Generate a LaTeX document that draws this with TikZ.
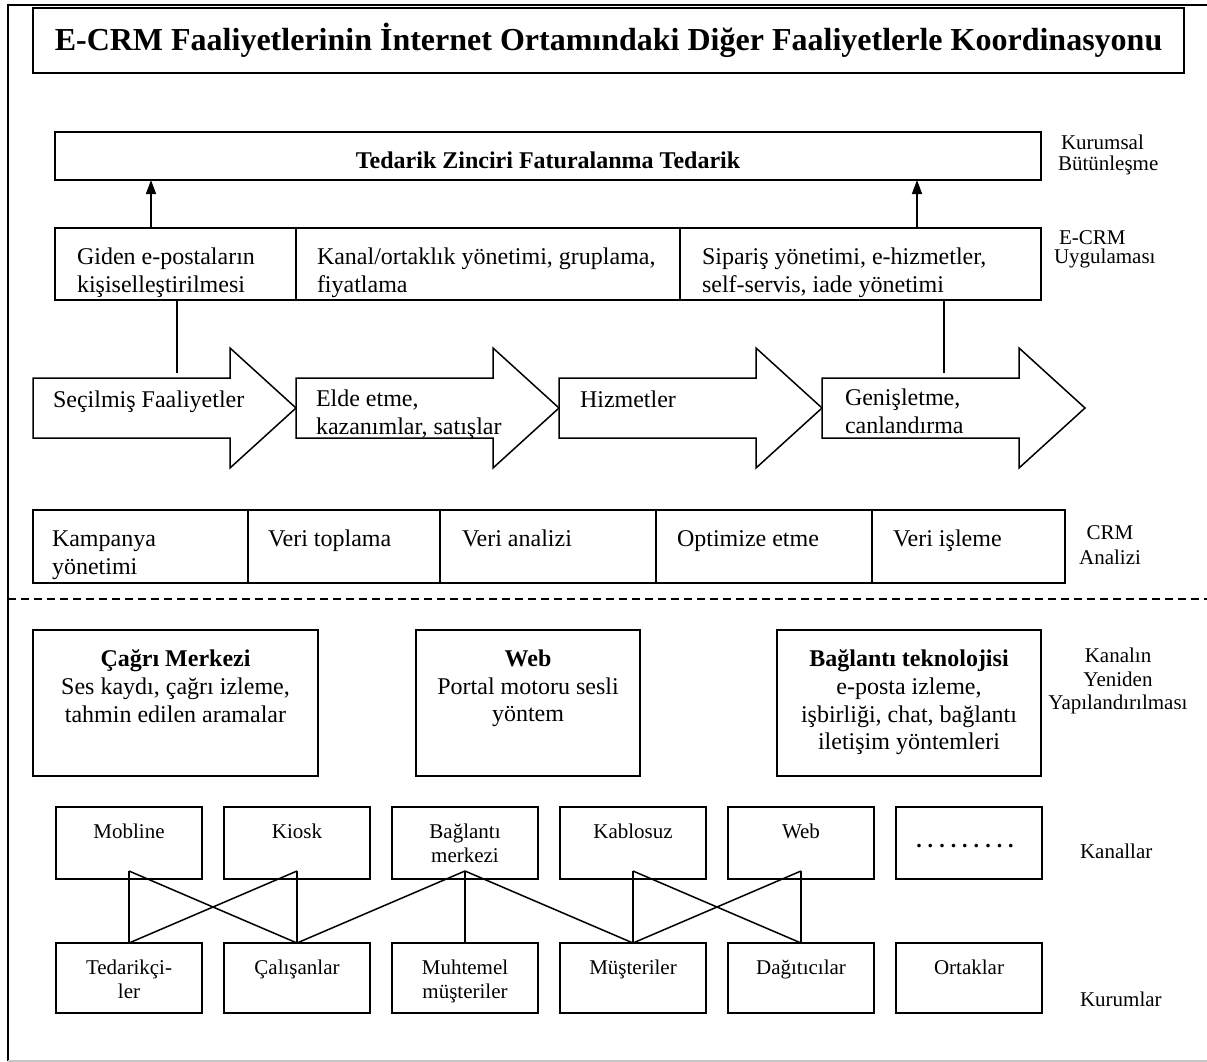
\documentclass[tikz,border=0pt]{standalone}
\usepackage{fontspec}
\setmainfont{Liberation Serif}
\usetikzlibrary{arrows.meta,calc}

\begin{document}
\begin{tikzpicture}[x=1pt,y=-1pt,
  every node/.style={inner sep=0pt,outer sep=0pt},
  boxed/.style={draw,line width=1.7pt},
  conn/.style={line width=1.5pt},
  big/.style={font=\fontsize{24}{27.6}\selectfont},
  small/.style={font=\fontsize{21}{23.5}\selectfont},
  upar/.style={conn,-{Triangle[length=14pt,width=10pt]}},
  flow/.style={draw,line width=1.5pt,line join=miter},
  chan/.style={boxed,minimum width=146pt,minimum height=72pt},
  inst/.style={boxed,minimum width=146pt,minimum height=70pt},
]
\useasboundingbox (0,0) rectangle (1207,1062);

% outer frame (right side runs past the page)
\draw[line width=1.5pt] (1220,5) -- (8,5) -- (8,1061);
\draw[gray!45,line width=1.5pt] (8,1061) -- (1220,1061);

% title
\node[boxed,minimum width=1151pt,minimum height=65pt,
      font=\fontsize{32}{36}\selectfont\bfseries] (title) at (608.5,40.5)
  {E-CRM Faaliyetlerinin İnternet Ortamındaki Diğer Faaliyetlerle Koordinasyonu};

% enterprise integration
\node[boxed,minimum width=986pt,minimum height=48pt] (ted) at (548,156) {};
\node[font=\fontsize{24}{27.6}\selectfont\bfseries,anchor=base] (tedt) at (548,168)
  {Tedarik Zinciri Faturalanma Tedarik};

% E-CRM application row
\node[boxed,minimum width=241pt,minimum height=72pt] (ea) at (175.5,264) {};
\node[boxed,minimum width=384pt,minimum height=72pt] (eb) at (488,264) {};
\node[boxed,minimum width=361pt,minimum height=72pt] (ec) at (860.5,264) {};
\node[big,align=left,anchor=west] (eat) at ([xshift=22pt,yshift=-9pt]ea.west)
  {Giden e-postaların\\kişiselleştirilmesi};
\node[big,align=left,anchor=west] (ebt) at ([xshift=21pt,yshift=-9pt]eb.west)
  {Kanal/ortaklık yönetimi, gruplama,\\fiyatlama};
\node[big,align=left,anchor=west] (ect) at ([xshift=22pt,yshift=-9pt]ec.west)
  {Sipariş yönetimi, e-hizmetler,\\self-servis, iade yönetimi};

\coordinate (u1) at (151,0);
\coordinate (u2) at (917,0);
\draw[upar] (ea.north -| u1) -- (ted.south -| u1);
\draw[upar] (ec.north -| u2) -- (ted.south -| u2);

% activity chain
\foreach \L/\n in {33/f1,296/f2,559/f3,822/f4}{
  \draw[flow] (\L,378) -- ({\L+197},378) -- ({\L+197},348) -- ({\L+263},408)
    -- ({\L+197},468) -- ({\L+197},438) -- (\L,438) -- cycle;
  \coordinate (\n) at ({\L+131.5},378);
}
\node[big,anchor=base west] (f1t) at (53,407) {Seçilmiş Faaliyetler};
\node[big,align=left,anchor=west] (f2t) at (316,414.5) {Elde etme,\\kazanımlar, satışlar};
\node[big,anchor=base west] (f3t) at (580,407) {Hizmetler};
\node[big,align=left,anchor=west] (f4t) at (845,411.5) {Genişletme,\\canlandırma};

\coordinate (d1) at (177,373);
\coordinate (d2) at (944,373);
\draw[conn] (ea.south -| d1) -- (d1);
\draw[conn] (ec.south -| d2) -- (d2);

% CRM analysis row
\node[boxed,minimum width=215pt,minimum height=73pt] (ca) at (140.5,546.5) {};
\node[boxed,minimum width=192pt,minimum height=73pt] (cb) at (344,546.5) {};
\node[boxed,minimum width=216pt,minimum height=73pt] (cc) at (548,546.5) {};
\node[boxed,minimum width=216pt,minimum height=73pt] (cd) at (764,546.5) {};
\node[boxed,minimum width=193pt,minimum height=73pt] (ce) at (968.5,546.5) {};
\node[big,align=left,anchor=west] (cat) at (52,555) {Kampanya\\yönetimi};
\node[big,anchor=base west] (cbt) at (268,546) {Veri toplama};
\node[big,anchor=base west] (cct) at (462,546) {Veri analizi};
\node[big,anchor=base west] (cdt) at (677,546) {Optimize etme};
\node[big,anchor=base west] (cet) at (893,546) {Veri işleme};

% separator
\draw[line width=1.3pt,dash pattern=on 8pt off 5pt] (8,599) -- (1220,599);

% channel restructuring
\node[boxed,minimum width=285pt,minimum height=146pt] (cm) at (175.5,703) {};
\node[boxed,minimum width=224pt,minimum height=146pt] (wb) at (528,703) {};
\node[boxed,minimum width=264pt,minimum height=146pt] (bt) at (909,703) {};
\node[big,align=center,anchor=north] (cmt) at (175.5,650)
  {\textbf{Çağrı Merkezi}\\Ses kaydı, çağrı izleme,\\tahmin edilen aramalar};
\node[big,align=center,anchor=north] (wbt) at (528,650)
  {\textbf{Web}\\Portal motoru sesli\\yöntem};
\node[big,align=center,anchor=north] (btt) at (909,650)
  {\textbf{Bağlantı teknolojisi}\\e-posta izleme,\\işbirliği, chat, bağlantı\\iletişim yöntemleri};

% channels
\node[chan] (mob) at (129,843) {};
\node[chan] (kio) at (297,843) {};
\node[chan] (bag) at (465,843) {};
\node[chan] (kab) at (633,843) {};
\node[chan] (web) at (801,843) {};
\node[chan] (dot) at (969,843) {};
\node[small,align=center,anchor=north] at ([yshift=-17pt]mob.north) (mobt) {Mobline};
\node[small,align=center,anchor=north] at ([yshift=-17pt]kio.north) (kiot) {Kiosk};
\node[small,align=center,anchor=north] at ([yshift=-17pt]bag.north) (bagt) {Bağlantı\\merkezi};
\node[small,align=center,anchor=north] at ([yshift=-17pt]kab.north) (kabt) {Kablosuz};
\node[small,align=center,anchor=north] at ([yshift=-17pt]web.north) (webt) {Web};
\node[font=\fontsize{22}{24}\selectfont\bfseries,anchor=base] at (965,847) (dott)
  {.\hspace{6pt}.\hspace{6pt}.\hspace{6pt}.\hspace{6pt}.\hspace{6pt}.\hspace{6pt}.\hspace{6pt}.\hspace{6pt}.};

% institutions
\node[inst] (ted2) at (129,978) {};
\node[inst] (cal) at (297,978) {};
\node[inst] (muh) at (465,978) {};
\node[inst] (mus) at (633,978) {};
\node[inst] (dag) at (801,978) {};
\node[inst] (ort) at (969,978) {};
\node[small,align=center,anchor=north] at ([yshift=-17pt]ted2.north) (ted2t) {Tedarikçi-\\ler};
\node[small,align=center,anchor=north] at ([yshift=-17pt]cal.north) (calt) {Çalışanlar};
\node[small,align=center,anchor=north] at ([yshift=-17pt]muh.north) (muht) {Muhtemel\\müşteriler};
\node[small,align=center,anchor=north] at ([yshift=-17pt]mus.north) (must) {Müşteriler};
\node[small,align=center,anchor=north] at ([yshift=-17pt]dag.north) (dagt) {Dağıtıcılar};
\node[small,align=center,anchor=north] at ([yshift=-17pt]ort.north) (ortt) {Ortaklar};

% channel-to-institution links
\foreach \a/\b in {mob/ted2,mob/cal,kio/ted2,kio/cal,bag/cal,bag/muh,bag/mus,
                   kab/mus,kab/dag,web/mus,web/dag}{
  \draw[conn] ([yshift=8pt]\a.south) -- (\b.north);
}

% layer labels
\node[align=left,anchor=west,font=\fontsize{21}{21}\selectfont] (lk) at (1058,154.5)
  {\hspace{3pt}Kurumsal\\Bütünleşme};
\node[align=left,anchor=west,font=\fontsize{21}{19}\selectfont] (le) at (1054,249)
  {\hspace{5pt}E-CRM\\Uygulaması};
\node[align=center,font=\fontsize{21}{25}\selectfont] (lc) at (1110,545.5) {CRM\\Analizi};
\node[small,align=center] (ly) at (1118,681) {Kanalın\\Yeniden\\Yapılandırılması};
\node[small,anchor=west] (lka) at (1080,851) {Kanallar};
\node[small,anchor=west] (lku) at (1080,999) {Kurumlar};
\end{tikzpicture}
\end{document}
